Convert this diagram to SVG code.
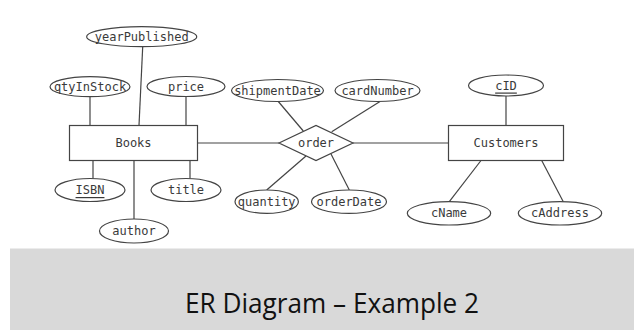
<svg xmlns="http://www.w3.org/2000/svg" width="640" height="330" viewBox="0 0 640 330">
<style>
.shape{fill:#fff;stroke:#444;stroke-width:1.2}
.conn line{stroke:#444;stroke-width:1.2}
.lbl{font-family:"DejaVu Sans Mono","Liberation Mono",monospace;font-size:12px;fill:#3a3a3a;text-anchor:middle;dominant-baseline:central}
.key{text-decoration:underline}
.title{font-family:"Open Sans","Noto Sans",sans-serif;font-size:28px;fill:#111;text-anchor:middle}
</style>
<rect x="0" y="0" width="640" height="330" fill="#fff"/>
<g id="connectors" class="conn">
<line x1="90" y1="96.7" x2="90" y2="125.5"/>
<line x1="142.7" y1="46.7" x2="139" y2="125.5"/>
<line x1="186" y1="96.5" x2="186" y2="125.5"/>
<line x1="93" y1="160.5" x2="93" y2="178.5"/>
<line x1="190" y1="160.5" x2="190" y2="178.5"/>
<line x1="134" y1="160.5" x2="134" y2="219"/>
<line x1="197.5" y1="143" x2="279" y2="143"/>
<line x1="353" y1="143" x2="448.5" y2="143"/>
<line x1="278.3" y1="101.5" x2="303.3" y2="131"/>
<line x1="380" y1="101.5" x2="331.7" y2="131.7"/>
<line x1="306" y1="156" x2="266.7" y2="190"/>
<line x1="331" y1="154" x2="349.3" y2="190"/>
<line x1="506" y1="96" x2="506" y2="125.5"/>
<line x1="481" y1="160.5" x2="449.3" y2="201.7"/>
<line x1="541.7" y1="160.5" x2="563.3" y2="201.7"/>
</g>
<g id="books"><rect class="shape" x="69.5" y="125.5" width="128" height="35"/><text class="lbl" x="133.5" y="143">Books</text></g>
<g id="customers"><rect class="shape" x="448.5" y="125.5" width="115" height="35"/><text class="lbl" x="506" y="143">Customers</text></g>
<g id="order"><polygon class="shape" points="279,143 316,125.5 353,143 316,160.5"/><text class="lbl" x="316" y="143">order</text></g>
<g id="yearPublished"><ellipse class="shape" cx="141.7" cy="36.7" rx="55" ry="10"/><text class="lbl" x="141.7" y="36.7">yearPublished</text></g>
<g id="qtyInStock"><ellipse class="shape" cx="90" cy="86.7" rx="40" ry="10"/><text class="lbl" x="90" y="86.7">qtyInStock</text></g>
<g id="price"><ellipse class="shape" cx="186" cy="86.5" rx="39" ry="10"/><text class="lbl" x="186" y="86.5">price</text></g>
<g id="ISBN"><ellipse class="shape" cx="90" cy="190" rx="35" ry="11.5"/><text class="lbl key" x="90" y="190">ISBN</text></g>
<g id="title"><ellipse class="shape" cx="186" cy="190" rx="35" ry="11.5"/><text class="lbl" x="186" y="190">title</text></g>
<g id="author"><ellipse class="shape" cx="134" cy="231" rx="34.5" ry="12"/><text class="lbl" x="134" y="231">author</text></g>
<g id="shipmentDate"><ellipse class="shape" cx="277.5" cy="90.5" rx="46" ry="11"/><text class="lbl" x="277.5" y="90.5">shipmentDate</text></g>
<g id="cardNumber"><ellipse class="shape" cx="377.5" cy="90.5" rx="42.5" ry="11"/><text class="lbl" x="377.5" y="90.5">cardNumber</text></g>
<g id="quantity"><ellipse class="shape" cx="266.7" cy="201.7" rx="31.7" ry="11.7"/><text class="lbl" x="266.7" y="201.7">quantity</text></g>
<g id="orderDate"><ellipse class="shape" cx="349" cy="201.7" rx="37.5" ry="11.7"/><text class="lbl" x="349" y="201.7">orderDate</text></g>
<g id="cID"><ellipse class="shape" cx="506" cy="85.5" rx="37.5" ry="10.5"/><text class="lbl key" x="506" y="85.5">cID</text></g>
<g id="cName"><ellipse class="shape" cx="449" cy="213.3" rx="41.7" ry="11.7"/><text class="lbl" x="449" y="213.3">cName</text></g>
<g id="cAddress"><ellipse class="shape" cx="560" cy="213.3" rx="41.7" ry="11.7"/><text class="lbl" x="560" y="213.3">cAddress</text></g>
<g id="banner"><rect x="10" y="248.5" width="624" height="81.5" fill="#d9d9d9"/><text class="title" x="332" y="313" textLength="294" lengthAdjust="spacingAndGlyphs">ER Diagram – Example 2</text></g>
</svg>
